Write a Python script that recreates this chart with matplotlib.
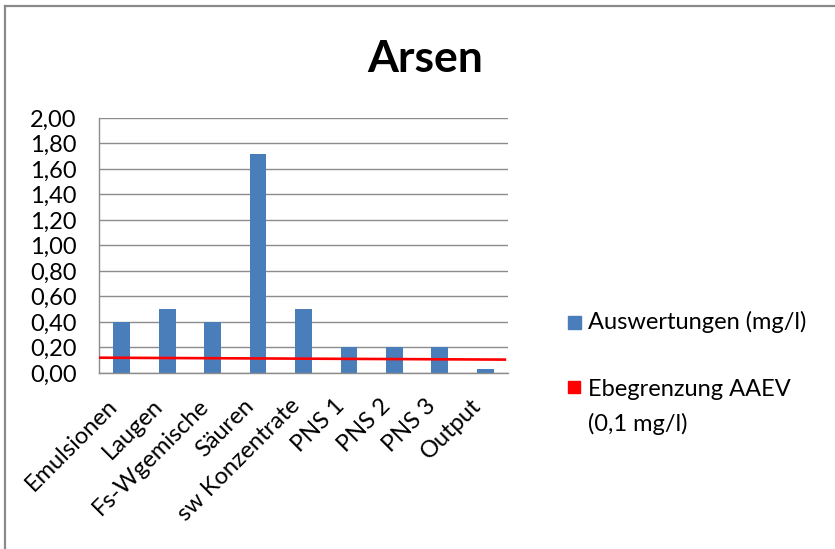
import matplotlib.pyplot as plt
from matplotlib.lines import Line2D
from matplotlib.patches import Rectangle
from matplotlib.ticker import FuncFormatter

plt.rcParams['font.family'] = ['Lato', 'DejaVu Sans']

# Arsen-Auswertungen je Stoffgruppe
categories = ['Emulsionen', 'Laugen', 'Fs-Wgemische', 'Säuren', 'sw Konzentrate',
              'PNS 1', 'PNS 2', 'PNS 3', 'Output']
values = [0.40, 0.50, 0.40, 1.72, 0.50, 0.20, 0.20, 0.20, 0.03]
# Grenzwertlinie (Anfang / Ende)
limit_vals = [0.12, 0.105]
yticks = [0.0, 0.2, 0.4, 0.6, 0.8, 1.0, 1.2, 1.4, 1.6, 1.8, 2.0]

BLUE = '#4A7EBB'
RED = '#FF0000'
GRID = '#8C8C8C'

fig = plt.figure(figsize=(8.35, 5.49), dpi=100)
ax = fig.add_axes([0.1186, 0.3206, 0.4898, 0.4645])

x = list(range(len(categories)))
ax.bar(x, values, width=0.37, color=BLUE, zorder=2)
ax.set_xlim(-0.5, len(categories) - 0.5)
ax.plot([-0.5, len(categories) - 0.57], limit_vals, color=RED, lw=1.9, zorder=3)

ax.set_ylim(0, 2.0)
ax.set_yticks(yticks)
ax.yaxis.set_major_formatter(FuncFormatter(lambda v, p: f'{v:.2f}'.replace('.', ',')))
ax.yaxis.grid(True, color=GRID, lw=1.0, zorder=0)
ax.set_xticks(x)
ax.set_xticklabels(categories, rotation=45, ha='right', va='top')
ax.tick_params(axis='y', length=0, pad=16, labelsize=17)
ax.tick_params(axis='x', length=0, pad=16, labelsize=17)
for s in ['top', 'right']:
    ax.spines[s].set_visible(False)
for s in ['left', 'bottom']:
    ax.spines[s].set_color(GRID)
    ax.spines[s].set_linewidth(1.0)

fig.text(0.509, 0.893, 'Arsen', ha='center', va='center', fontsize=32, fontweight='bold')

# Legende
fig.patches.append(Rectangle((568 / 835, 1 - 329 / 549), 13 / 835, 13 / 549,
                             transform=fig.transFigure, color=BLUE))
fig.text(588 / 835, 1 - 322 / 549, 'Auswertungen (mg/l)', va='center', fontsize=17)
fig.patches.append(Rectangle((568 / 835, 1 - 393 / 549), 12 / 835, 12 / 549,
                             transform=fig.transFigure, color=RED))
fig.text(588 / 835, 1 - 390 / 549, 'Ebegrenzung AAEV', va='center', fontsize=17)
fig.text(588 / 835, 1 - 424 / 549, '(0,1 mg/l)', va='center', fontsize=17)

# Rahmen oben und links
fig.add_artist(Line2D([5 / 835, 1], [1 - 6 / 549, 1 - 6 / 549], color='#8A8A8A', lw=1.6,
                      transform=fig.transFigure))
fig.add_artist(Line2D([5 / 835, 5 / 835], [0, 1 - 6 / 549], color='#8A8A8A', lw=1.6,
                      transform=fig.transFigure))

fig.savefig('out.png', dpi=100)
